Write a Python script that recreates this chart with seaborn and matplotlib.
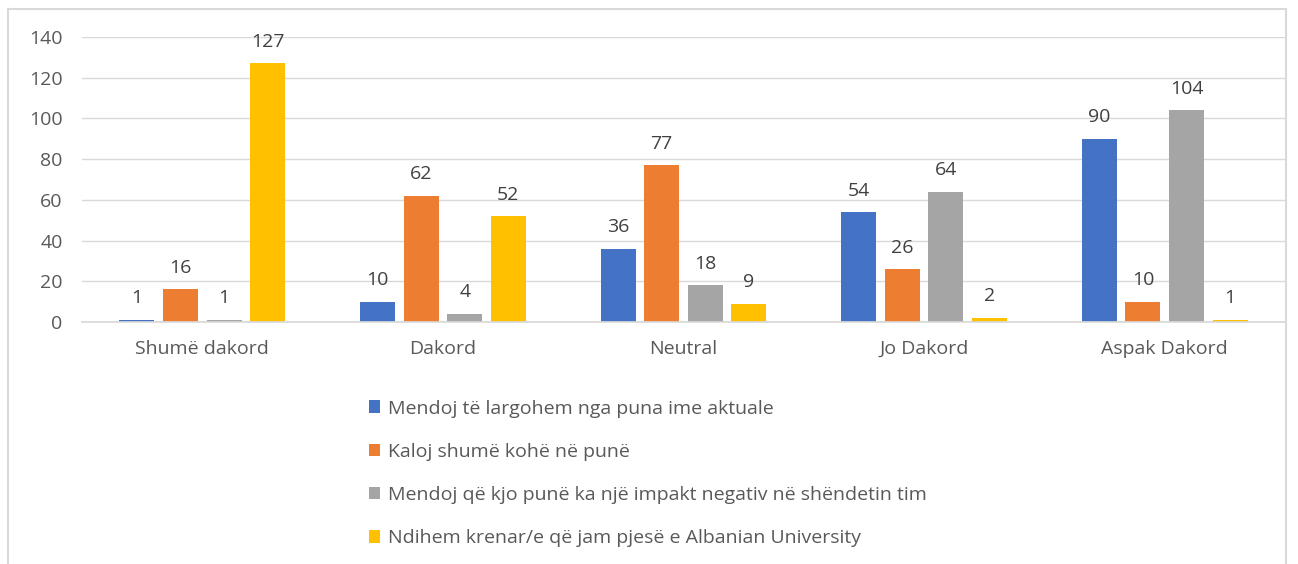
import matplotlib
matplotlib.use("Agg")
import matplotlib.pyplot as plt
import seaborn as sns
import pandas as pd
from matplotlib.lines import Line2D
from matplotlib.patches import Patch

categories = ["Shumë dakord", "Dakord", "Neutral", "Jo Dakord", "Aspak Dakord"]
series_names = [
    "Mendoj të largohem nga puna ime aktuale",
    "Kaloj shumë kohë në punë",
    "Mendoj që kjo punë ka një impakt negativ në shëndetin tim",
    "Ndihem krenar/e që jam pjesë e Albanian University",
]
s1 = [1, 10, 36, 54, 90]
s2 = [16, 62, 77, 26, 10]
s3 = [1, 4, 18, 64, 104]
s4 = [127, 52, 9, 2, 1]
colors = ["#4472C4", "#ED7D31", "#A5A5A5", "#FFC000"]

rows = []
for name, vals in zip(series_names, [s1, s2, s3, s4]):
    for c, v in zip(categories, vals):
        rows.append({"cat": c, "series": name, "value": v})
df = pd.DataFrame(rows)

sns.set_theme(style="white")
plt.rcParams['font.family'] = ['Open Sans', 'DejaVu Sans']

FS = 14

fig = plt.figure(figsize=(12.98, 5.64), dpi=100)
ax = fig.add_axes([82/1298, 1-322/564, (1285-82)/1298, (322-37)/564])

sns.barplot(data=df, x="cat", y="value", hue="series", order=categories,
            hue_order=series_names, palette=colors, width=0.725, gap=0.2,
            saturation=1, ax=ax, legend=False, errorbar=None, linewidth=0)

ax.set_ylim(0, 140)
ax.set_xlim(-0.5, 4.5)
ax.set_yticks(range(0, 141, 20))
ax.yaxis.grid(True, color="#D9D9D9", linewidth=1)
ax.set_axisbelow(True)
for sp in ["top", "right", "left"]:
    ax.spines[sp].set_visible(False)
ax.spines["bottom"].set_color("#D9D9D9")
ax.tick_params(axis="both", length=0, labelsize=FS, colors="#595959")
ax.tick_params(axis="x", pad=13)
ax.tick_params(axis="y", pad=14)
ax.set_xlabel("")
ax.set_ylabel("")

for cont in ax.containers:
    ax.bar_label(cont, labels=[f"{int(v)}" for v in cont.datavalues],
                 padding=9, fontsize=FS, color="#404040")

# legend
handles = [Patch(facecolor=c, edgecolor="none") for c in colors]
fig.legend(handles, series_names, loc="upper left",
           bbox_to_anchor=(351/1298, 1-382/564), frameon=False,
           fontsize=FS, labelcolor="#595959", handlelength=0.6, handleheight=0.6,
           handletextpad=0.4, labelspacing=1.3)

# chart frame (left, top, right)
fx0, fx1, fy0 = 8/1298, 1286/1298, 1-9/564
fig.add_artist(Line2D([fx0, fx0], [0, fy0], transform=fig.transFigure, color="#D9D9D9", lw=1.5))
fig.add_artist(Line2D([fx0, fx1], [fy0, fy0], transform=fig.transFigure, color="#D9D9D9", lw=1.5))
fig.add_artist(Line2D([fx1, fx1], [0, fy0], transform=fig.transFigure, color="#D9D9D9", lw=1.5))

fig.savefig("out.png", dpi=100, facecolor="white")
